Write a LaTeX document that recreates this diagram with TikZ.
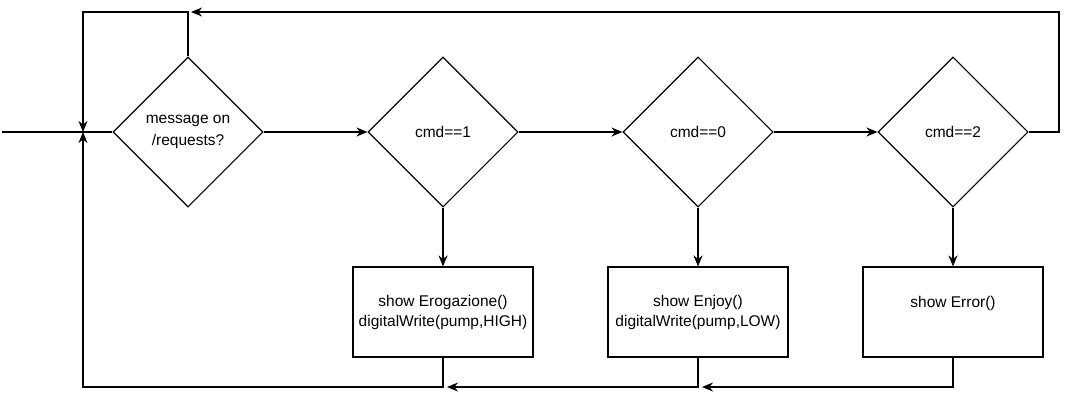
\documentclass[tikz,border=0pt]{standalone}
\usepackage{fontspec}
\setmainfont{Liberation Sans}
\usetikzlibrary{shapes.geometric,arrows.meta}
\begin{document}
\begin{tikzpicture}[x=1pt,y=-1pt,
  line width=1.3pt,
  every node/.style={font=\fontsize{15.5}{20}\selectfont},
  dec/.style={draw, diamond, aspect=1, minimum width=150pt, minimum height=150pt, inner sep=0pt, align=center, line width=1.1pt},
  act/.style={draw, rectangle, minimum width=180pt, minimum height=90pt, inner sep=0pt, align=center, line width=1.1pt},
  arr/.style={-{Stealth[length=11pt,width=9pt,inset=3.5pt]}}]
\useasboundingbox (0,0) rectangle (1073,402);
\node[dec] (d1) at (188,132) {message on\\[2pt]/requests?};
\node[dec] (d2) at (443,132) {cmd==1};
\node[dec] (d3) at (698,132) {cmd==0};
\node[dec] (d4) at (953,132) {cmd==2};
\node[act] (b1) at (443,312) {show Erogazione()\\digitalWrite(pump,HIGH)};
\node[act] (b2) at (698,312) {show Enjoy()\\digitalWrite(pump,LOW)};
\node[act] (b3) at (953,312) {show Error()\\\mbox{}};
\coordinate (in) at (2,132);
\coordinate (j) at (83,132);
\coordinate (topL) at (83,12);
\coordinate (topC) at (188,12);
\coordinate (topT) at (191,12);
\coordinate (topR) at (1059,12);
\coordinate (rgt) at (1059,132);
\coordinate (botL) at (83,387);
\coordinate (bot1) at (443,387);
\coordinate (bot2) at (698,387);
\coordinate (bot3) at (953,387);
\coordinate (tip1) at (447,387);
\coordinate (tip2) at (702,387);
% entry
\draw (in) -- (d1.west);
\draw[arr] (d1.north) -- (topC) -- (topL) -- (j);
\draw[arr] (b1.south) -- (bot1) -- (botL) -- (j);
% chain
\draw[arr] (d1.east) -- (d2.west);
\draw[arr] (d2.east) -- (d3.west);
\draw[arr] (d3.east) -- (d4.west);
\draw[arr] (d2.south) -- (b1.north);
\draw[arr] (d3.south) -- (b2.north);
\draw[arr] (d4.south) -- (b3.north);
% returns
\draw[arr] (d4.east) -- (rgt) -- (topR) -- (topT);
\draw[arr] (b3.south) -- (bot3) -- (tip2);
\draw[arr] (b2.south) -- (bot2) -- (tip1);
\end{tikzpicture}
\end{document}
